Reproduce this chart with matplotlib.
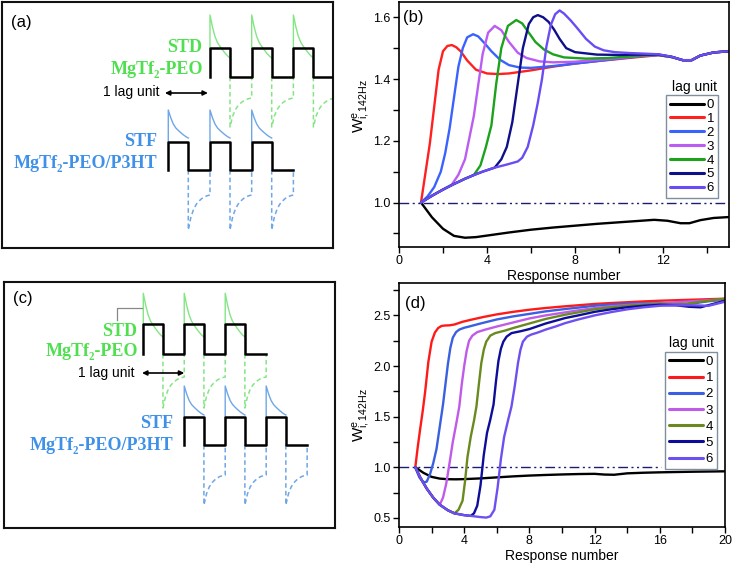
import matplotlib
matplotlib.use('Agg')
import matplotlib.pyplot as plt
from matplotlib.ticker import MultipleLocator, FormatStrFormatter

plt.rcParams['font.family'] = ['Liberation Sans', 'DejaVu Sans']
plt.rcParams['mathtext.fontset'] = 'custom'
plt.rcParams['mathtext.rm'] = 'Liberation Sans'
plt.rcParams['mathtext.it'] = 'Liberation Sans:italic'

# ---------------- panel (b): W^e vs response number, 142 Hz, STD/STF pair
lag_labels = ['0', '1', '2', '3', '4', '5', '6']

b_x0 = [1.0, 1.5, 2.0, 2.5, 3.0, 3.5, 4.0, 5.0, 6.0, 7.0, 8.0, 9.0, 10.0, 11.0,
        11.6, 12.2, 12.8, 13.2, 13.7, 14.3, 15.0]
b_y0 = [1.0, 0.952, 0.915, 0.892, 0.886, 0.888, 0.893, 0.903, 0.912, 0.919, 0.925,
        0.931, 0.936, 0.941, 0.944, 0.941, 0.933, 0.933, 0.943, 0.950, 0.953]

b_x1 = [1.0, 1.2, 1.4, 1.6, 1.8, 2.0, 2.2, 2.4, 2.6, 2.8, 3.1, 3.5, 4.0, 4.5, 5.0,
        6.0, 7.0, 8.0, 9.0, 10.0, 11.0, 11.8, 12.4, 12.9, 13.3, 13.7, 14.3, 15.0]
b_y1 = [1.0, 1.095, 1.19, 1.31, 1.43, 1.49, 1.507, 1.51, 1.503, 1.49, 1.46, 1.43,
        1.418, 1.416, 1.418, 1.428, 1.44, 1.45, 1.458, 1.465, 1.472, 1.477, 1.471,
        1.461, 1.461, 1.476, 1.486, 1.49]

b_x2 = [1.0, 1.3, 1.6, 1.9, 2.1, 2.3, 2.5, 2.7, 2.9, 3.1, 3.37, 3.6, 3.9, 4.2, 4.6,
        5.0, 5.5, 6.0, 7.0, 8.0, 9.0, 10.0, 11.0, 11.8, 12.4, 12.9, 13.3, 13.7,
        14.3, 15.0]
b_y2 = [1.0, 1.02, 1.05, 1.10, 1.16, 1.24, 1.34, 1.44, 1.50, 1.535, 1.545, 1.538,
        1.515, 1.49, 1.462, 1.445, 1.437, 1.436, 1.442, 1.45, 1.458, 1.466, 1.474,
        1.478, 1.471, 1.461, 1.461, 1.476, 1.486, 1.49]

b_x3 = [1.0, 1.5, 2.0, 2.4, 2.7, 3.0, 3.2, 3.4, 3.6, 3.8, 4.05, 4.35, 4.65, 5.0,
        5.4, 5.8, 6.4, 7.0, 8.0, 9.0, 10.0, 11.0, 11.8, 12.4, 12.9, 13.3, 13.7,
        14.3, 15.0]
b_y3 = [1.0, 1.022, 1.042, 1.058, 1.09, 1.14, 1.21, 1.28, 1.38, 1.48, 1.55, 1.572,
        1.558, 1.52, 1.485, 1.468, 1.457, 1.454, 1.456, 1.462, 1.468, 1.475, 1.478,
        1.471, 1.461, 1.461, 1.476, 1.486, 1.49]

b_x4 = [1.0, 1.5, 2.0, 2.5, 3.0, 3.4, 3.7, 3.95, 4.2, 4.42, 4.65, 4.95, 5.33, 5.6,
        5.9, 6.2, 6.6, 7.0, 7.5, 8.5, 9.5, 10.5, 11.2, 11.8, 12.4, 12.9, 13.3,
        13.7, 14.3, 15.0]
b_y4 = [1.0, 1.022, 1.042, 1.06, 1.077, 1.089, 1.12, 1.18, 1.25, 1.385, 1.5, 1.572,
        1.591, 1.58, 1.55, 1.52, 1.495, 1.48, 1.47, 1.466, 1.468, 1.473, 1.477,
        1.478, 1.471, 1.461, 1.461, 1.476, 1.486, 1.49]

b_x5 = [1.0, 1.5, 2.0, 2.5, 3.0, 3.4, 3.8, 4.35, 4.65, 4.9, 5.15, 5.4, 5.63, 5.9,
        6.1, 6.31, 6.55, 6.8, 7.05, 7.3, 7.6, 8.0, 9.0, 10.0, 11.0, 11.8, 12.4,
        12.9, 13.3, 13.7, 14.3, 15.0]
b_y5 = [1.0, 1.022, 1.042, 1.06, 1.077, 1.089, 1.10, 1.113, 1.14, 1.18, 1.26,
        1.385, 1.5, 1.578, 1.60, 1.607, 1.60, 1.585, 1.56, 1.53, 1.50, 1.487,
        1.479, 1.478, 1.479, 1.479, 1.472, 1.461, 1.461, 1.476, 1.486, 1.49]

b_x6 = [1.0, 1.5, 2.0, 2.5, 3.0, 3.4, 3.8, 4.35, 4.9, 5.4, 5.6, 5.85, 6.1, 6.3,
        6.5, 6.7, 6.9, 7.1, 7.3, 7.5, 7.8, 8.1, 8.5, 8.9, 9.3, 9.8, 10.5, 11.2,
        11.8, 12.4, 12.9, 13.3, 13.7, 14.3, 15.0]
b_y6 = [1.0, 1.022, 1.042, 1.06, 1.077, 1.089, 1.10, 1.113, 1.123, 1.133, 1.145,
        1.18, 1.25, 1.32, 1.40, 1.505, 1.575, 1.61, 1.622, 1.612, 1.59, 1.565,
        1.53, 1.505, 1.493, 1.487, 1.484, 1.482, 1.480, 1.472, 1.461, 1.461, 1.476,
        1.486, 1.49]

# ---------------- panel (d): W^e vs response number, STF/STD pair
d_x0 = [1.0, 1.5, 2.0, 2.5, 3.0, 3.5, 4.0, 5.0, 6.0, 7.0, 8.0, 9.0, 10.0, 11.0,
        12.0, 12.6, 13.2, 14.0, 15.0, 16.0, 17.0, 18.0, 19.0, 20.0]
d_y0 = [1.0, 0.945, 0.905, 0.888, 0.882, 0.881, 0.883, 0.890, 0.900, 0.910, 0.918,
        0.924, 0.929, 0.933, 0.935, 0.928, 0.926, 0.940, 0.946, 0.950, 0.953, 0.956,
        0.958, 0.960]

d_x1 = [1.0, 1.15, 1.3, 1.45, 1.6, 1.8, 2.0, 2.2, 2.4, 2.6, 2.8, 3.1, 3.4, 3.9,
        4.5, 5.2, 6.0, 7.0, 8.0, 9.0, 10.2, 11.0, 12.0, 13.0, 14.0, 15.0, 16.0,
        17.0, 18.0, 19.0, 20.0]
d_y1 = [1.0, 1.2, 1.38, 1.55, 1.74, 2.04, 2.24, 2.33, 2.375, 2.395, 2.40, 2.402,
        2.41, 2.437, 2.46, 2.485, 2.51, 2.535, 2.556, 2.573, 2.59, 2.60, 2.613,
        2.622, 2.63, 2.638, 2.645, 2.65, 2.655, 2.66, 2.665]

d_x2 = [1.0, 1.25, 1.5, 1.7, 1.9, 2.1, 2.3, 2.5, 2.7, 2.85, 3.0, 3.15, 3.3, 3.5,
        3.7, 4.0, 4.3, 5.0, 6.0, 7.0, 8.0, 9.0, 10.2, 11.0, 12.0, 13.0, 14.0, 15.0,
        16.0, 16.8, 17.5, 18.2, 19.0, 20.0]
d_y2 = [1.0, 0.9, 0.85, 0.858, 0.93, 1.04, 1.18, 1.40, 1.62, 1.82, 2.02, 2.18,
        2.28, 2.335, 2.36, 2.378, 2.39, 2.42, 2.46, 2.49, 2.515, 2.54, 2.563, 2.577,
        2.595, 2.607, 2.615, 2.62, 2.625, 2.615, 2.612, 2.622, 2.64, 2.655]

d_x3 = [1.0, 1.3, 1.7, 2.1, 2.5, 2.7, 2.9, 3.1, 3.3, 3.5, 3.7, 3.85, 4.0, 4.15,
        4.3, 4.5, 4.8, 5.3, 6.0, 7.0, 8.0, 9.0, 10.2, 11.0, 12.0, 13.0, 14.0, 15.0,
        16.0, 17.0, 18.0, 19.0, 20.0]
d_y3 = [1.0, 0.9, 0.79, 0.70, 0.63, 0.70, 0.84, 1.04, 1.25, 1.42, 1.6, 1.82, 2.0,
        2.15, 2.25, 2.30, 2.335, 2.36, 2.39, 2.43, 2.47, 2.50, 2.53, 2.55, 2.572,
        2.59, 2.603, 2.613, 2.622, 2.63, 2.64, 2.65, 2.66]

d_x4 = [1.0, 1.3, 1.7, 2.1, 2.5, 3.0, 3.4, 3.65, 3.9, 4.05, 4.2, 4.4, 4.6, 4.75,
        4.9, 5.05, 5.2, 5.35, 5.6, 5.9, 6.5, 7.0, 8.0, 9.0, 10.2, 11.0, 12.0, 13.0,
        14.0, 15.0, 16.0, 16.8, 17.5, 18.5, 20.0]
d_y4 = [1.0, 0.9, 0.79, 0.70, 0.63, 0.575, 0.545, 0.58, 0.67, 0.86, 1.1, 1.3, 1.46,
        1.6, 1.82, 2.03, 2.16, 2.24, 2.30, 2.325, 2.35, 2.375, 2.42, 2.465, 2.507,
        2.53, 2.56, 2.58, 2.595, 2.607, 2.615, 2.605, 2.61, 2.635, 2.665]

d_x5 = [1.0, 1.3, 1.7, 2.1, 2.5, 3.0, 3.4, 4.0, 4.4, 4.6, 4.8, 5.0, 5.2, 5.4, 5.6,
        5.8, 5.95, 6.1, 6.25, 6.4, 6.6, 6.9, 7.5, 8.0, 9.0, 10.2, 11.0, 12.0, 13.0,
        14.0, 15.0, 16.0, 17.0, 17.8, 18.5, 19.2, 20.0]
d_y5 = [1.0, 0.9, 0.79, 0.70, 0.63, 0.575, 0.545, 0.527, 0.52, 0.545, 0.62, 0.82,
        1.12, 1.34, 1.47, 1.62, 1.85, 2.05, 2.17, 2.24, 2.29, 2.325, 2.345, 2.365,
        2.42, 2.474, 2.50, 2.535, 2.56, 2.58, 2.595, 2.605, 2.60, 2.585, 2.58, 2.61,
        2.645]

d_x6 = [1.0, 1.3, 1.7, 2.1, 2.5, 3.0, 3.4, 4.0, 4.4, 5.0, 5.35, 5.6, 5.85, 6.05,
        6.25, 6.45, 6.7, 6.9, 7.1, 7.3, 7.45, 7.6, 7.85, 8.1, 8.5, 9.0, 9.6, 10.2,
        11.0, 12.0, 13.0, 14.0, 15.0, 16.0, 17.0, 18.0, 19.0, 20.0]
d_y6 = [1.0, 0.9, 0.79, 0.70, 0.63, 0.575, 0.545, 0.527, 0.52, 0.508, 0.503, 0.515,
        0.58, 0.8, 1.08, 1.3, 1.47, 1.6, 1.8, 2.03, 2.16, 2.24, 2.29, 2.31, 2.33,
        2.36, 2.39, 2.424, 2.46, 2.50, 2.532, 2.56, 2.58, 2.595, 2.60, 2.60, 2.595,
        2.635]

b_colors = ['#000000', '#ff2020', '#3a62ff', '#bb5cf2', '#1ca21c', '#0f0f8a', '#6a4cf5']
d_colors = ['#000000', '#ff1a1a', '#3a5fe0', '#c05ae8', '#6a8a20', '#0d0d99', '#6e4ff0']

# ---------------- schematic panels (a)/(c): pulse trains, x in lag units
a_std_rises = [0, 1, 2]
a_stf_rises = [-1, 0, 1]
c_std_rises = [0, 1, 2]
c_stf_rises = [1, 2, 3]
pulse_width = 0.48
shape_t = [0.0, 0.125, 0.25, 0.375, 0.5, 0.625, 0.75, 0.875, 1.0]
decay_shape = [1.0, 0.72, 0.5, 0.36, 0.27, 0.19, 0.115, 0.05, 0.0]
recover_shape = [1.0, 0.62, 0.4, 0.26, 0.17, 0.1, 0.05, 0.02, 0.0]

GREEN_LINE = '#85e585'
BLUE_LINE = '#6fa6e6'
GREEN_TXT = '#4fe04f'
BLUE_TXT = '#3f90e8'


def draw_train(ax, rises, end, hi, lo, top, sag, bottom, rec, color):
    xs, ys = [rises[0]], [lo]
    for r in rises:
        xs += [r, r, r + pulse_width, r + pulse_width]
        ys += [lo, hi, hi, lo]
    xs.append(end)
    ys.append(lo)
    nxt = list(rises[1:]) + [end]
    for r, n in zip(rises, nxt):
        dx = [r] + [r + pulse_width * t for t in shape_t]
        dy = [hi] + [sag + (top - sag) * s for s in decay_shape]
        ax.plot(dx, dy, color=color, lw=1.0, zorder=2)
        f = r + pulse_width
        rx = [f] + [f + (n - f) * t for t in shape_t] + [n]
        ry = [lo] + [rec + (bottom - rec) * s for s in recover_shape] + [lo]
        ax.plot(rx, ry, color=color, lw=1.1, ls=(0, (3, 2)), zorder=2)
    ax.plot(xs, ys, color='k', lw=1.8, zorder=3)


def box_axes(ax):
    ax.set_xticks([])
    ax.set_yticks([])
    for s in ax.spines.values():
        s.set_linewidth(1.5)
        s.set_color('#111111')


def schem_text(ax, x, y, txt, color):
    ax.text(x, y, txt, color=color, ha='right', va='center', fontsize=13,
            fontweight='bold', family=['Liberation Serif', 'DejaVu Serif'])


def lag_panel(ax, xs, ys, colors, xlim, ylim, xmaj, ymaj, ymin, yfmt, dash_end,
              tag, tag_xy, leg_anchor, title_xy, spacing, ylab_xy):
    for x, y, c, lab in zip(xs, ys, colors, lag_labels):
        ax.plot(x, y, color=c, lw=1.7, label=lab, solid_capstyle='round')
    ax.plot([xlim[0], dash_end], [1.0, 1.0], color='#1c1c70', lw=1.0,
            ls=(0, (7, 2.5, 1.5, 2.5, 1.5, 2.5)), zorder=1)
    ax.set_xlim(*xlim)
    ax.set_ylim(*ylim)
    ax.xaxis.set_major_locator(MultipleLocator(xmaj))
    ax.xaxis.set_minor_locator(MultipleLocator(xmaj / 2))
    ax.yaxis.set_major_locator(MultipleLocator(ymaj))
    ax.yaxis.set_minor_locator(MultipleLocator(ymin))
    ax.yaxis.set_major_formatter(FormatStrFormatter(yfmt))
    ax.tick_params(which='both', direction='out', length=4, width=1,
                   labelsize=9, pad=2)
    for s in ax.spines.values():
        s.set_linewidth(1.2)
    ax.set_xlabel('Response number', fontsize=10, labelpad=1)
    ax.set_ylabel(r'$\mathrm{W}^{\mathrm{e}}_{\mathrm{i,142Hz}}$', fontsize=11)
    ax.yaxis.set_label_coords(*ylab_xy)
    ax.text(tag_xy[0], tag_xy[1], tag, transform=ax.transAxes, fontsize=12,
            ha='left', va='center')
    ax.text(title_xy[0], title_xy[1], 'lag unit', transform=ax.transAxes,
            fontsize=10, ha='center', va='center')
    leg = ax.legend(loc='upper right', bbox_to_anchor=leg_anchor, fontsize=9.5,
                    handlelength=2.6, handletextpad=0.2, labelspacing=spacing,
                    borderpad=0.3, borderaxespad=0, fancybox=False,
                    framealpha=1, markerfirst=True)
    leg.get_frame().set_edgecolor('#7f8fa0')
    leg.get_frame().set_linewidth(1.0)
    for line in leg.get_lines():
        line.set_linewidth(2.2)


W, H = 734, 563
fig = plt.figure(figsize=(7.34, 5.63), dpi=100)

# panel (a)
ax_a = fig.add_axes([2.3 / W, 1 - 248 / H, 330.7 / W, 245.7 / H])
ax_a.set_xlim(-4.98, 2.95)
ax_a.set_ylim(248, 2.3)
box_axes(ax_a)
draw_train(ax_a, a_std_rises, 3, 48.3, 76.7, 15, 58, 127, 98, GREEN_LINE)
draw_train(ax_a, a_stf_rises, 2, 141.7, 170, 110, 138, 230, 195, BLUE_LINE)
ax_a.text(-4.78, 23, '(a)', fontsize=12, ha='left', va='center')
schem_text(ax_a, -0.19, 48, 'STD', GREEN_TXT)
schem_text(ax_a, -0.17, 70, 'MgTf\u2082-PEO', GREEN_TXT)
schem_text(ax_a, -1.27, 141, 'STF', BLUE_TXT)
schem_text(ax_a, -1.27, 163, 'MgTf\u2082-PEO/P3HT', BLUE_TXT)
ax_a.text(-2.57, 92, '1 lag unit', fontsize=10, ha='left', va='center')
ax_a.annotate('', xy=(-0.05, 93), xytext=(-1.08, 93),
              arrowprops=dict(arrowstyle='<|-|>', lw=1.2, color='k',
                              mutation_scale=7, shrinkA=0, shrinkB=0))

# panel (c)
ax_c = fig.add_axes([4 / W, 1 - 528 / H, 331 / W, 246 / H])
ax_c.set_xlim(-3.40, 4.68)
ax_c.set_ylim(248, 2)
box_axes(ax_c)
draw_train(ax_c, c_std_rises, 3, 44, 74, 13.3, 57, 128, 97, GREEN_LINE)
draw_train(ax_c, c_stf_rises, 4, 136.7, 165, 106, 135, 225, 195, BLUE_LINE)
ax_c.plot([-0.65, -0.65, -0.04], [40, 28.3, 28.3], color='#888888', lw=0.9)
ax_c.text(-3.18, 18, '(c)', fontsize=12, ha='left', va='center')
schem_text(ax_c, -0.15, 52, 'STD', GREEN_TXT)
schem_text(ax_c, -0.13, 72, 'MgTf\u2082-PEO', GREEN_TXT)
schem_text(ax_c, 0.72, 143, 'STF', BLUE_TXT)
schem_text(ax_c, 0.74, 165, 'MgTf\u2082-PEO/P3HT', BLUE_TXT)
ax_c.text(-1.59, 93, '1 lag unit', fontsize=10, ha='left', va='center')
ax_c.annotate('', xy=(1.0, 93), xytext=(-0.03, 93),
              arrowprops=dict(arrowstyle='<|-|>', lw=1.2, color='k',
                              mutation_scale=7, shrinkA=0, shrinkB=0))

# panel (b)
ax_b = fig.add_axes([399 / W, 1 - 247 / H, 330 / W, 245.5 / H])
lag_panel(ax_b, [b_x0, b_x1, b_x2, b_x3, b_x4, b_x5, b_x6],
          [b_y0, b_y1, b_y2, b_y3, b_y4, b_y5, b_y6], b_colors,
          (0, 15), (0.856, 1.651), 4, 0.2, 0.1, '%.1f', 15,
          '(b)', (0.012, 0.935), (0.967, 0.619), (0.894, 0.652), 0.12,
          (-0.082, 0.576))

# panel (d)
ax_d = fig.add_axes([399 / W, 1 - 527 / H, 326 / W, 244 / H])
lag_panel(ax_d, [d_x0, d_x1, d_x2, d_x3, d_x4, d_x5, d_x6],
          [d_y0, d_y1, d_y2, d_y3, d_y4, d_y5, d_y6], d_colors,
          (0, 20), (0.41, 2.82), 4, 0.5, 0.25, '%.1f', 16.1,
          '(d)', (0.018, 0.918), (0.976, 0.718), (0.896, 0.754), 0.3,
          (-0.083, 0.457))

fig.savefig('out.png', dpi=100)
